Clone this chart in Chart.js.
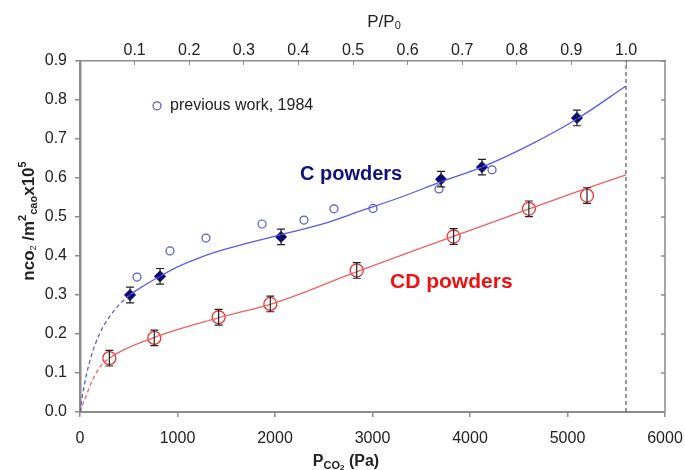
<!DOCTYPE html>
<html>
<head>
<meta charset="utf-8">
<script src="https://cdn.jsdelivr.net/npm/chart.js@4.4.1/dist/chart.umd.min.js"></script>
<style>
  html, body { margin: 0; padding: 0; background: #fff; }
  #wrap { width: 685px; height: 470px; }
</style>
</head>
<body>
<div id="wrap"><canvas id="isotherm" width="685" height="470"></canvas></div>
<script>
// CO2 uptake per CaO surface vs CO2 pressure, with P/P0 on the top axis
const P0 = 5600; // saturation pressure (Pa)

const xTicks = [0, 1000, 2000, 3000, 4000, 5000, 6000];
const yTicks = [0, 0.1, 0.2, 0.3, 0.4, 0.5, 0.6, 0.7, 0.8, 0.9];
const topTicks = [0.1, 0.2, 0.3, 0.4, 0.5, 0.6, 0.7, 0.8, 0.9, 1.0];

// C powders: measured points with error bars
const cPressure = [513, 821, 2062, 3703, 4123, 5097];
const cUptake = [0.300, 0.348, 0.449, 0.597, 0.628, 0.754];
const cError = [0.02, 0.02, 0.02, 0.02, 0.02, 0.02];

// CD powders: measured points with error bars
const cdPressure = [301, 762, 1422, 1952, 2838, 3832, 4604, 5200];
const cdUptake = [0.138, 0.190, 0.243, 0.277, 0.363, 0.450, 0.521, 0.555];
const cdError = [0.02, 0.02, 0.02, 0.02, 0.02, 0.02, 0.02, 0.02];

// previous work, 1984
const prevPressure = [585, 923, 1292, 1867, 2297, 2605, 3005, 3682, 4226];
const prevUptake = [0.346, 0.413, 0.446, 0.482, 0.492, 0.521, 0.522, 0.572, 0.621];

// fitted curves (dashed below the first measured point)
const cFitPressure = [0, 30, 100, 200, 350, 500, 650, 821, 1000, 1250, 1500, 1750, 2062, 2500, 2872, 3282, 3700, 4123, 4600, 5100, 5600];
const cFitUptake = [0, 0.05, 0.13, 0.20, 0.26, 0.298, 0.323, 0.348, 0.372, 0.398, 0.418, 0.435, 0.455, 0.483, 0.515, 0.550, 0.590, 0.628, 0.683, 0.752, 0.836];
const cFitDashedTo = 500;

const cdFitPressure = [0, 60, 140, 210, 300, 750, 1400, 2000, 2800, 3300, 3800, 4600, 5100, 5600];
const cdFitUptake = [0, 0.04, 0.088, 0.117, 0.138, 0.190, 0.240, 0.280, 0.356, 0.402, 0.448, 0.520, 0.565, 0.608];
const cdFitDashedTo = 300;

const legendPos = { x: 790, y: 0.785 };
const cLabelPos = { x: 2256, y: 0.608 };
const cdLabelPos = { x: 3180, y: 0.333 };

const AXIS = '#8c8c8c';
const TXT = '#222';
const FONT = '"Liberation Sans", Arial, sans-serif';

const pts = (xs, ys) => xs.map((x, i) => ({ x: x, y: ys[i] }));

const fitSegment = (limit) => ({
  borderDash: c => (c.p1.parsed.x <= limit ? [4, 3] : undefined)
});

// horizontal axes: fixed height, and no extra side padding for edge labels
const fixHeight = h => s => { s.height = h; s.paddingLeft = 0; s.paddingRight = 0; };

// draws a row of text pieces with sub/superscripts, centred on (0,0)
function richText(ctx, parts) {
  let w = 0;
  parts.forEach(p => {
    ctx.font = (p.bold ? 'bold ' : '') + p.size + 'px ' + FONT;
    p.w = ctx.measureText(p.t).width;
    w += p.w;
  });
  let x = -w / 2;
  parts.forEach(p => {
    ctx.font = (p.bold ? 'bold ' : '') + p.size + 'px ' + FONT;
    ctx.fillText(p.t, x, p.dy || 0);
    x += p.w;
  });
}

const decorations = {
  id: 'decorations',
  afterDatasetsDraw(chart) {
    const ctx = chart.ctx;
    const ys = chart.scales.y;

    // error bars
    chart.data.datasets.forEach((ds, di) => {
      if (!ds.errorBars) return;
      const meta = chart.getDatasetMeta(di);
      ctx.save();
      ctx.strokeStyle = '#222';
      ctx.lineWidth = 1.2;
      meta.data.forEach((el, i) => {
        const v = ds.data[i].y, e = ds.errorBars[i];
        const yt = ys.getPixelForValue(v + e), yb = ys.getPixelForValue(v - e);
        ctx.beginPath();
        ctx.moveTo(el.x, yt); ctx.lineTo(el.x, yb);
        ctx.moveTo(el.x - 4, yt); ctx.lineTo(el.x + 4, yt);
        ctx.moveTo(el.x - 4, yb); ctx.lineTo(el.x + 4, yb);
        ctx.stroke();
      });
      ctx.restore();
    });
  },
  afterDraw(chart) {
    const ctx = chart.ctx;
    const a = chart.chartArea;
    const xs = chart.scales.x, ys = chart.scales.y;

    // right frame with inward ticks
    ctx.save();
    ctx.strokeStyle = AXIS;
    ctx.lineWidth = 1.5;
    ctx.beginPath();
    ctx.moveTo(a.right, a.top); ctx.lineTo(a.right, a.bottom);
    yTicks.forEach(v => {
      const y = ys.getPixelForValue(v);
      ctx.moveTo(a.right, y); ctx.lineTo(a.right - 4, y);
    });
    ctx.stroke();
    ctx.restore();

    // legend entry
    ctx.save();
    const lx = xs.getPixelForValue(legendPos.x), ly = ys.getPixelForValue(legendPos.y);
    ctx.strokeStyle = '#5555cc';
    ctx.lineWidth = 1.2;
    ctx.beginPath();
    ctx.arc(lx, ly, 4, 0, Math.PI * 2);
    ctx.stroke();
    ctx.fillStyle = TXT;
    ctx.font = '16px ' + FONT;
    ctx.textBaseline = 'middle';
    ctx.fillText('previous work, 1984', lx + 13, ly);

    // series labels
    ctx.font = 'bold 20px ' + FONT;
    ctx.fillStyle = '#10107e';
    ctx.fillText('C powders', xs.getPixelForValue(cLabelPos.x), ys.getPixelForValue(cLabelPos.y));
    ctx.font = 'bold 21px ' + FONT;
    ctx.fillStyle = '#ee1111';
    ctx.fillText('CD powders', xs.getPixelForValue(cdLabelPos.x), ys.getPixelForValue(cdLabelPos.y));
    ctx.restore();

    // axis titles
    ctx.save();
    ctx.fillStyle = TXT;
    ctx.textBaseline = 'middle';
    ctx.translate(346, 462);
    richText(ctx, [
      { t: 'P', size: 16, bold: true },
      { t: 'CO', size: 11, bold: true, dy: 4 },
      { t: '2', size: 8, bold: true, dy: 6 },
      { t: ' (Pa)', size: 16, bold: true }
    ]);
    ctx.restore();

    ctx.save();
    ctx.fillStyle = TXT;
    ctx.textBaseline = 'middle';
    ctx.translate(384, 22);
    richText(ctx, [
      { t: 'P/P', size: 17 },
      { t: '0', size: 11, dy: 4 }
    ]);
    ctx.restore();

    ctx.save();
    ctx.fillStyle = TXT;
    ctx.textBaseline = 'middle';
    ctx.translate(29, 221);
    ctx.rotate(-Math.PI / 2);
    richText(ctx, [
      { t: 'nco', size: 17, bold: true },
      { t: '2', size: 9, dy: 5 },
      { t: ' /m', size: 17, bold: true },
      { t: '2', size: 11, bold: true, dy: -6 },
      { t: 'cao', size: 11, bold: true, dy: 5 },
      { t: 'x10', size: 17, bold: true },
      { t: '5', size: 11, bold: true, dy: -6 }
    ]);
    ctx.restore();
  }
};

new Chart(document.getElementById('isotherm'), {
  type: 'scatter',
  data: {
    datasets: [
      {
        label: 'C powders fit',
        data: pts(cFitPressure, cFitUptake),
        showLine: true,
        borderColor: '#5a5ae8',
        borderWidth: 1.3,
        pointRadius: 0,
        cubicInterpolationMode: 'monotone',
        segment: fitSegment(cFitDashedTo),
        xAxisID: 'x', yAxisID: 'y'
      },
      {
        label: 'CD powders fit',
        data: pts(cdFitPressure, cdFitUptake),
        showLine: true,
        borderColor: '#f06060',
        borderWidth: 1.3,
        pointRadius: 0,
        cubicInterpolationMode: 'monotone',
        segment: fitSegment(cdFitDashedTo),
        xAxisID: 'x', yAxisID: 'y'
      },
      {
        label: 'P0',
        data: pts([P0, P0], [0, 0.9]),
        showLine: true,
        borderColor: '#555',
        borderWidth: 1.2,
        borderDash: [4, 3],
        pointRadius: 0,
        xAxisID: 'x', yAxisID: 'y'
      },
      {
        label: 'previous work, 1984',
        data: pts(prevPressure, prevUptake),
        pointStyle: 'circle',
        pointRadius: 4,
        borderColor: '#5555cc',
        borderWidth: 1.2,
        backgroundColor: 'rgba(0,0,0,0)',
        xAxisID: 'x', yAxisID: 'y'
      },
      {
        label: 'CD powders',
        data: pts(cdPressure, cdUptake),
        errorBars: cdError,
        pointStyle: 'circle',
        pointRadius: 6.5,
        borderColor: '#ee3333',
        borderWidth: 1.3,
        backgroundColor: 'rgba(0,0,0,0)',
        xAxisID: 'x', yAxisID: 'y'
      },
      {
        label: 'C powders',
        data: pts(cPressure, cUptake),
        errorBars: cError,
        pointStyle: 'rectRot',
        pointRadius: 5.5,
        borderColor: '#000080',
        backgroundColor: '#000080',
        borderWidth: 1,
        xAxisID: 'x', yAxisID: 'y'
      }
    ]
  },
  options: {
    responsive: false,
    animation: false,
    layout: { padding: { right: 20 } },
    plugins: {
      legend: { display: false },
      tooltip: { enabled: false }
    },
    scales: {
      x: {
        type: 'linear',
        position: 'bottom',
        min: 0,
        max: 6000,
        afterBuildTicks: s => { s.ticks = xTicks.map(v => ({ value: v })); },
        ticks: { color: TXT, font: { family: FONT, size: 16 }, padding: 12, maxRotation: 0, callback: v => String(v) },
        grid: { drawOnChartArea: false, tickLength: 5, color: AXIS, lineWidth: 1.5 },
        border: { color: AXIS, width: 2 },
        afterFit: fixHeight(58)
      },
      xTop: {
        type: 'linear',
        position: 'top',
        min: 0,
        max: 6000 / P0,
        afterBuildTicks: s => { s.ticks = topTicks.map(v => ({ value: v })); },
        ticks: { color: TXT, font: { family: FONT, size: 16 }, padding: 5, maxRotation: 0, callback: v => v.toFixed(1) },
        grid: { drawOnChartArea: false, tickLength: -4, color: AXIS, lineWidth: 1 },
        border: { color: AXIS, width: 1.5 },
        afterFit: fixHeight(61)
      },
      y: {
        type: 'linear',
        min: 0,
        max: 0.9,
        afterBuildTicks: s => { s.ticks = yTicks.map(v => ({ value: v })); },
        ticks: { color: TXT, font: { family: FONT, size: 16 }, padding: 8, callback: v => v.toFixed(1) },
        grid: { drawOnChartArea: false, tickLength: 5, color: AXIS, lineWidth: 1.5 },
        border: { color: AXIS, width: 2.5 },
        afterFit: s => { s.width = 80; s.paddingTop = 0; s.paddingBottom = 0; }
      }
    }
  },
  plugins: [decorations]
});
</script>
</body>
</html>
